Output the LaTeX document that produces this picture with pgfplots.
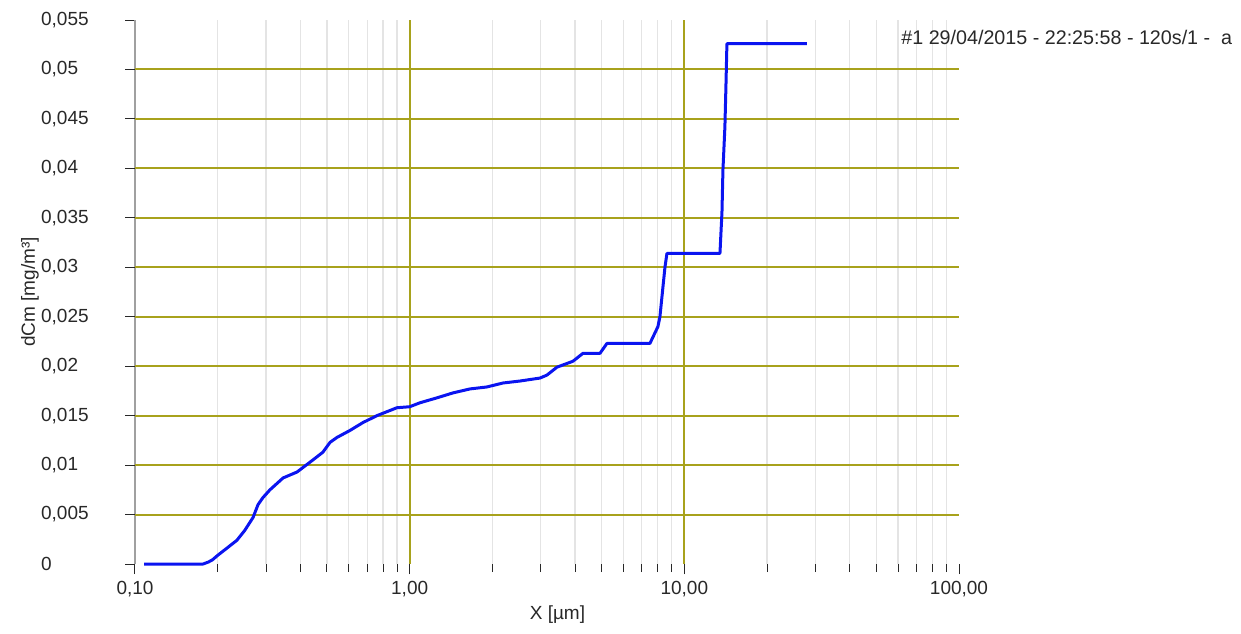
\documentclass[border=0pt]{standalone}
\usepackage{fontspec}
\setmainfont{Liberation Sans}
\usepackage{pgfplots}
\pgfplotsset{compat=1.18}
\definecolor{gridolive}{RGB}{168,162,28}
\definecolor{gridgray}{RGB}{228,228,228}
\definecolor{axisgray}{RGB}{160,160,160}
\definecolor{curveblue}{RGB}{10,20,240}
\definecolor{txt}{RGB}{40,40,40}
\begin{document}
\begin{tikzpicture}
\useasboundingbox (-67.5pt,-34.5pt) rectangle (553pt,282pt);
\begin{axis}[
  at={(0,0)}, anchor=south west,
  scale only axis, width=412pt, height=272pt,
  xmode=log, xmin=0.1, xmax=100, ymin=0, ymax=0.055,
  font=\fontsize{9.5pt}{11pt}\selectfont,
  axis x line*=bottom, axis y line*=left,
  x axis line style={draw=none},
  y axis line style={draw=axisgray, line width=0.6pt, -},
  tick align=outside,
  major tick length=5pt, minor tick length=4pt,
  every tick/.style={txt, line width=0.5pt},
  xtick={0.1,1,10,100},
  xticklabels={{0,10},{1,00},{10,00},{100,00}},
  minor xtick={0.2,0.3,0.4,0.5,0.6,0.7,0.8,0.9,2,3,4,5,6,7,8,9,20,30,40,50,60,70,80,90},
  xminorgrids=true,
  minor x grid style={gridgray, line width=0.6pt},
  major grid style={gridolive, line width=1pt},
  extra x ticks={1,10}, extra x tick labels={},
  extra x tick style={grid=major},
  ytick={0,0.005,0.01,0.015,0.02,0.025,0.03,0.035,0.04,0.045,0.05,0.055},
  yticklabels={0,{0,005},{0,01},{0,015},{0,02},{0,025},{0,03},{0,035},{0,04},{0,045},{0,05},{0,055}},
  extra y ticks={0.005,0.01,0.015,0.02,0.025,0.03,0.035,0.04,0.045,0.05},
  extra y tick labels={},
  extra y tick style={grid=major},
  yticklabel style={anchor=west, xshift=-45.5pt, text=txt},
  xticklabel style={text=txt},
  scaled y ticks=false,
  every axis y label/.style={at={(axis description cs:-0.1274,0.5)}, rotate=90, anchor=center, text=txt},
  every axis x label/.style={at={(axis description cs:0.5127,-0.0938)}, anchor=center, text=txt},
  xlabel={X [µm]},
  ylabel={dCm [mg/m³]},
  clip=false,
]
\addplot[curveblue, line width=1.5pt, line join=round] coordinates {
(0.108,0) (0.177,0) (0.185,0.0002) (0.191,0.0004) (0.2005,0.0009)
(0.216,0.0016) (0.235,0.0024) (0.251,0.0034) (0.269,0.0047) (0.2805,0.0060)
(0.292,0.0067) (0.310,0.0075) (0.346,0.0087) (0.389,0.0093) (0.434,0.0103)
(0.483,0.0113) (0.513,0.0123) (0.544,0.0128) (0.606,0.0135) (0.676,0.0143)
(0.760,0.0150) (0.899,0.0158) (1.0,0.0159) (1.09,0.0163) (1.257,0.0168)
(1.438,0.0173) (1.658,0.0177) (1.911,0.0179) (2.186,0.0183) (2.521,0.0185)
(2.981,0.0188) (3.161,0.0191) (3.438,0.0199) (3.931,0.0205) (4.275,0.0213)
(4.930,0.0213) (5.226,0.0223) (7.494,0.0223) (8.014,0.0240) (8.150,0.0250)
(8.500,0.0300) (8.643,0.0314) (13.48,0.0314) (13.71,0.0356) (13.82,0.0398)
(14.05,0.0442) (14.17,0.0482) (14.29,0.0526) (27.95,0.0526)
};
\node[anchor=west, inner sep=0pt, text=txt, font=\fontsize{9.85pt}{11pt}\selectfont] at (axis description cs:0.9296,0.9678) {\#1 29/04/2015 - 22:25:58 - 120s/1 -\ \ a};
\end{axis}
\end{tikzpicture}
\end{document}
